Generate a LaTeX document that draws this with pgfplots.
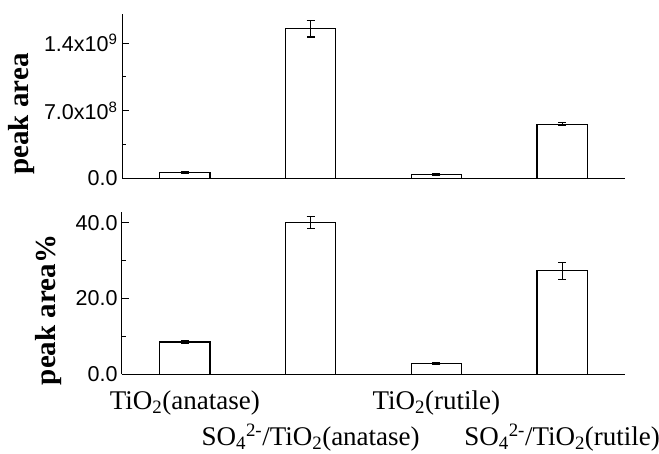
\documentclass[border=0pt]{standalone}
\usepackage{fontspec}
\setmainfont{Liberation Serif}
\newfontfamily\arial{Liberation Sans}
\usepackage{pgfplots}
\pgfplotsset{compat=1.18}

% peak area (absolute) and peak area% for the four samples
\pgfplotstableread{
x   y        e
1   6.0e7    1.0e7
2   1.548e9  8.5e7
3   3.9e7    0.8e7
4   5.61e8   1.5e7
}\areadata
\pgfplotstableread{
x   y     e
1   8.5   0.4
2   40.0  1.6
3   2.9   0.3
4   27.3  2.2
}\percdata

\pgfplotsset{
  barpanel/.style={
    scale only axis, width=503pt,
    anchor=south west,
    axis lines*=left,
    axis line style={line width=1pt},
    xmin=0.5, xmax=4.5,
    ymin=0,
    scaled y ticks=false,
    tick align=inside,
    major tick length=7pt, minor tick length=4pt,
    tick style={black, line width=0.9pt},
    xtick style={draw=none},
    yticklabel style={font=\arial\fontsize{21.5}{24}\selectfont, xshift=-1pt},
    ylabel style={font=\bfseries\fontsize{29}{31}\selectfont, anchor=center},
    clip=false,
  },
  barstyle/.style={
    ybar, bar width=0.4, fill=white, draw=black, line width=1.3pt,
    error bars/.cd, y dir=both, y explicit,
    error bar style={line width=1.2pt, black},
    error mark options={line width=1.2pt, mark size=4pt, black, rotate=90},
  },
}

\begin{document}
\begin{tikzpicture}
\path[use as bounding box] (0,0) rectangle (659pt,-454pt);

\begin{axis}[barpanel,
  at={(122pt,-178.5pt)}, height=164.5pt,
  ymax=1.7e9,
  ytick={0,7e8,1.4e9},
  yticklabels={0.0, 7.0x10\textsuperscript{8}, 1.4x10\textsuperscript{9}},
  minor ytick={3.5e8,1.05e9},
  xtick=\empty,
  ylabel={peak area},
  ylabel style={at={(axis description cs:-0.1998,0.392)}},
]
\addplot[barstyle] table[x=x, y=y, y error=e] {\areadata};
\end{axis}

\begin{axis}[barpanel,
  at={(122pt,-374.3pt)}, height=162.3pt,
  ymax=42.8,
  ytick={0,20,40},
  yticklabels={0.0, 20.0, 40.0},
  minor ytick={10,30},
  xtick={1,3},
  xticklabels={TiO\textsubscript{2}(anatase), TiO\textsubscript{2}(rutile)},
  xticklabel style={font=\fontsize{27}{30}\selectfont, anchor=base, yshift=-35pt},
  extra x ticks={2,4},
  extra x tick labels={SO\textsubscript{4}\textsuperscript{2-}/TiO\textsubscript{2}(anatase), SO\textsubscript{4}\textsuperscript{2-}/TiO\textsubscript{2}(rutile)},
  extra x tick style={tick style={draw=none}, xticklabel style={yshift=-36pt}},
  ylabel={peak area\%},
  ylabel style={at={(axis description cs:-0.146,0.396)}},
]
\addplot[barstyle] table[x=x, y=y, y error=e] {\percdata};
\end{axis}
\end{tikzpicture}
\end{document}
